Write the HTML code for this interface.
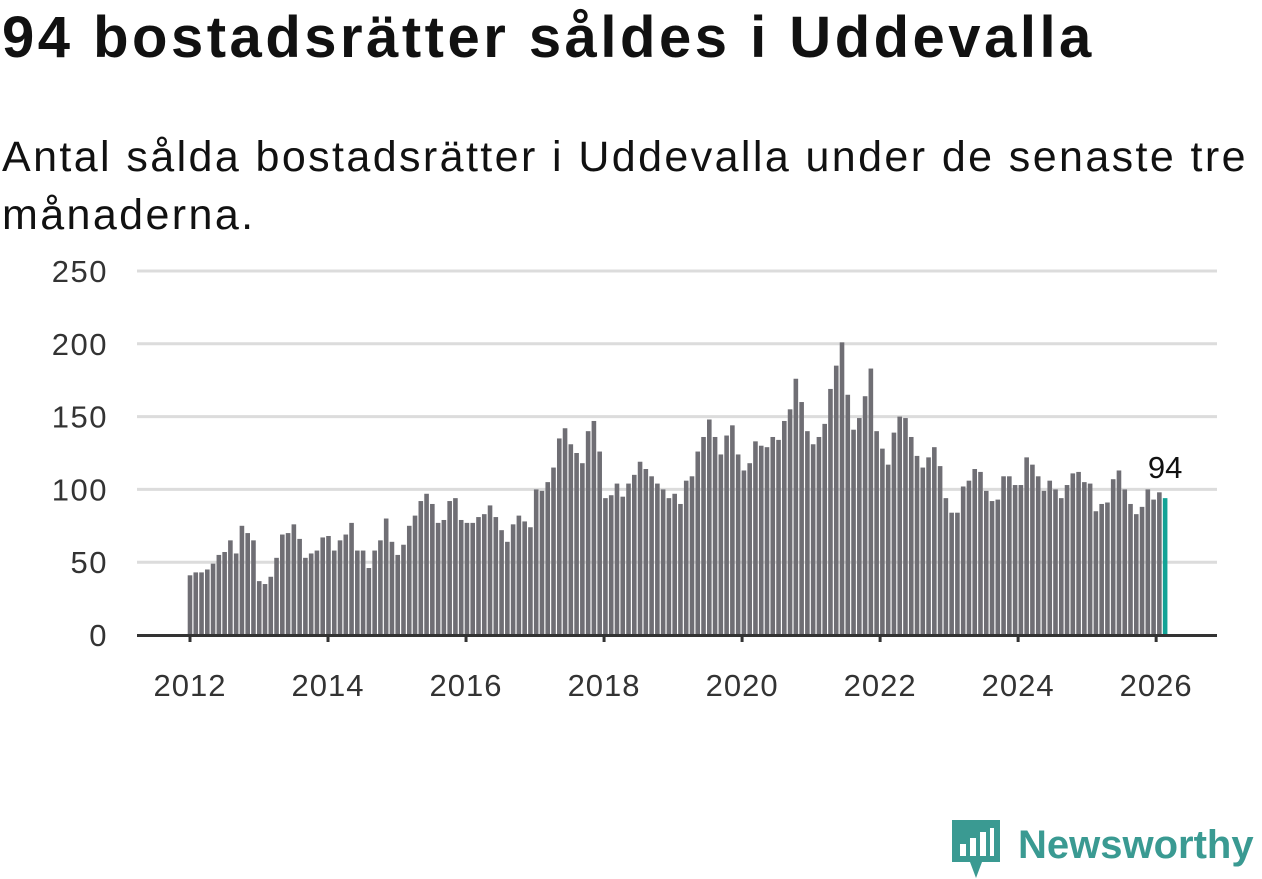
<!DOCTYPE html>
<html><head><meta charset="utf-8"><style>
body{margin:0;width:1262px;height:879px;background:#fff;font-family:"Liberation Sans",sans-serif;overflow:hidden}
h1{position:absolute;left:2px;top:4px;margin:0;font-size:58px;font-weight:bold;color:#111;letter-spacing:3.5px;white-space:nowrap}
.sub{position:absolute;left:2px;top:128px;margin:0;font-size:43px;line-height:58px;color:#111;width:1259px;letter-spacing:2.4px}
</style></head><body>
<h1>94 bostadsrätter såldes i Uddevalla</h1>
<p class="sub">Antal sålda bostadsrätter i Uddevalla under de senaste tre månaderna.</p>
<svg id="chart" width="1262" height="879" style="position:absolute;left:0;top:0" font-family="Liberation Sans, sans-serif"></svg>
<div style="position:absolute;left:952px;top:820px;display:flex;align-items:center">
<svg width="48" height="58"><path d="M0 0H48V42H30L24 58L18 42H0Z" fill="#3a9a92"/><rect x="8" y="24" width="6" height="12" fill="#fff"/><rect x="18" y="18" width="6" height="18" fill="#fff"/><rect x="28" y="12" width="6" height="24" fill="#fff"/><rect x="38" y="8" width="4" height="28" fill="#fff"/></svg>
<span style="font-size:40px;font-weight:bold;color:#3a9a92;margin-left:18px;margin-top:-8px">Newsworthy</span></div>
<script>
const years=[2012,2014,2016,2018,2020,2022,2024,2026];
const yTicks=[0,50,100,150,200,250];
const values=[41,43,43,45,49,55,57,65,56,75,70,65,
37,35,40,53,69,70,76,66,53,56,58,67,
68,58,65,69,77,58,58,46,58,65,80,64,
55,62,75,82,92,97,90,77,79,92,94,79,
77,77,81,83,89,81,72,64,76,82,78,74,
100,99,105,115,135,142,131,125,118,140,147,126,
94,96,104,95,104,110,119,114,109,104,100,94,
97,90,106,109,126,136,148,136,124,137,144,124,
113,118,133,130,129,136,134,147,155,176,160,140,
131,136,145,169,185,201,165,141,149,164,183,140,
128,117,139,150,149,136,123,115,122,129,116,94,
84,84,102,106,114,112,99,92,93,109,109,103,
103,122,117,109,99,106,100,94,103,111,112,105,
104,85,90,91,107,113,100,90,83,88,100,93,98,94];
const svg=document.getElementById('chart');const NS='http://www.w3.org/2000/svg';
const y=v=>635-v*364/250;
const x=i=>190+i*5.77;
const yr=t=>190+(t-2012)*12*5.77-(t-2012)*0.23;
function mk(t,a){const e=document.createElementNS(NS,t);for(const k in a)e.setAttribute(k,a[k]);svg.appendChild(e);return e;}
yTicks.forEach(t=>{
 if(t>0){const g=mk('line',{x1:137,x2:1217,y1:y(t),y2:y(t),stroke:'#dcdcdc','stroke-width':3});
 
 }
 const l=mk('text',{x:108,y:y(t)+11,'text-anchor':'end','font-size':31,'letter-spacing':1.5,fill:'#333'});l.textContent=t;
 
 
});
values.forEach((v,i)=>{
 const last=i===values.length-1;
 const r=mk('rect',{x:x(i)-2.3,y:y(v),width:4.6,height:635-y(v),fill:last?'#12a396':'#6f6e74'});
 
 
});
const ax=mk('line',{x1:137,x2:1217,y1:635.5,y2:635.5,stroke:'#333','stroke-width':3});


years.forEach(t=>{
 const px=yr(t);
 const tk=mk('line',{x1:px,x2:px,y1:635,y2:642,stroke:'#333','stroke-width':3});
 
 
 const l=mk('text',{x:px,y:696,'text-anchor':'middle','font-size':31,'letter-spacing':1,fill:'#333'});l.textContent=t;
 
 
});
const n=values.length-1;
const lab=mk('text',{x:x(n),y:y(values[n])-20,'text-anchor':'middle','font-size':31,fill:'#111'});lab.textContent=values[n];


</script>
</body></html>
